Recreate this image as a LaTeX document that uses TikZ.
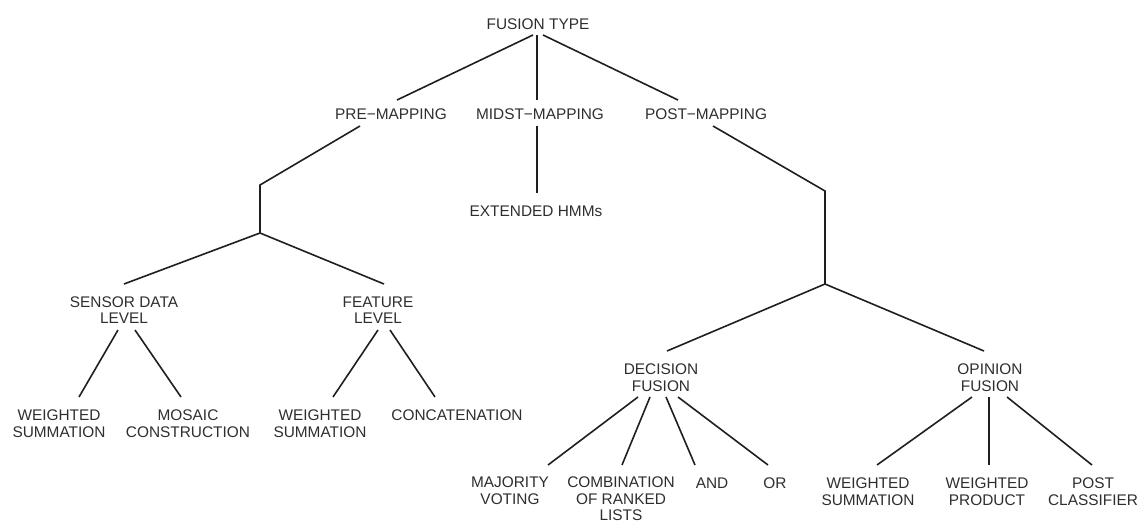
\documentclass[tikz,border=0pt]{standalone}
\usepackage{fontspec}
\setmainfont{Liberation Sans}
\usetikzlibrary{calc}
\begin{document}
\begin{tikzpicture}[x=1pt,y=-1pt,
  lbl/.style={inner sep=0pt,align=center,text=black!82,font=\fontsize{15.4}{16.5}\selectfont},
  edge/.style={draw=black!88,line width=1.6pt}]
\useasboundingbox (0,0) rectangle (1140,520);
% nodes
\node[lbl] (ft)   at (538,24)  {FUSION TYPE};
\node[lbl] (pre)  at (391,114) {PRE−MAPPING};
\node[lbl] (mid)  at (540,114) {MIDST−MAPPING};
\node[lbl] (post) at (706,114) {POST−MAPPING};
\node[lbl] (ext)  at (536,211) {EXTENDED HMMs};
\node[lbl] (sdl)  at (124,310) {SENSOR DATA\\LEVEL};
\node[lbl] (fl)   at (378,310) {FEATURE\\LEVEL};
\node[lbl] (ws1)  at (59,423.5)  {WEIGHTED\\SUMMATION};
\node[lbl] (mc)   at (188,423.5) {MOSAIC\\CONSTRUCTION};
\node[lbl] (ws2)  at (320,423.5) {WEIGHTED\\SUMMATION};
\node[lbl] (cat)  at (457,415)   {CONCATENATION};
\node[lbl] (df)   at (661,377.5) {DECISION\\FUSION};
\node[lbl] (opf)  at (990,377.5) {OPINION\\FUSION};
\node[lbl] (mv)   at (510,490.5) {MAJORITY\\VOTING};
\node[lbl] (crl)  at (621,499)   {COMBINATION\\OF RANKED\\LISTS};
\node[lbl] (and)  at (712,483)   {AND};
\node[lbl] (or)   at (775,483)   {OR};
\node[lbl] (ws3)  at (868,491.5) {WEIGHTED\\SUMMATION};
\node[lbl] (wp)   at (987,491.5) {WEIGHTED\\PRODUCT};
\node[lbl] (pc)   at (1093,491.5) {POST\\CLASSIFIER};
% junction points
\coordinate (pj1) at (260,185);
\coordinate (pj2) at (260,233);
\coordinate (qj1) at (825,191);
\coordinate (qj2) at (825,284);
% connectors
\draw[edge] ($(ft)+(-5,11)$) -- ($(pre)+(6,-14)$);
\draw[edge] ($(ft)+(-1,11)$) -- ($(mid)+(-3,-14)$);
\draw[edge] ($(ft)+(5,11)$) -- ($(post)+(-28,-14)$);
\draw[edge] ($(pre)+(-31,12)$) -- (pj1) -- (pj2);
\draw[edge] (pj2) -- ($(sdl)+(0,-26)$);
\draw[edge] (pj2) -- ($(fl)+(6,-26)$);
\draw[edge] ($(mid)+(-3,12)$) -- ($(ext)+(1,-18)$);
\draw[edge] ($(post)+(7,12)$) -- (qj1) -- (qj2);
\draw[edge] (qj2) -- ($(df)+(6,-26.5)$);
\draw[edge] (qj2) -- ($(opf)+(-6,-26.5)$);
\draw[edge] ($(sdl)+(-6,20)$) -- ($(ws1)+(20,-26.5)$);
\draw[edge] ($(sdl)+(11,20)$) -- ($(mc)+(-7,-26.5)$);
\draw[edge] ($(fl)+(0,20)$) -- ($(ws2)+(13,-26.5)$);
\draw[edge] ($(fl)+(12,20)$) -- ($(cat)+(-22,-18)$);
\draw[edge] ($(df)+(-23,19.5)$) -- ($(mv)+(38,-25.5)$);
\draw[edge] ($(df)+(-11,19.5)$) -- ($(crl)+(1,-34)$);
\draw[edge] ($(df)+(5,19.5)$) -- ($(and)+(-17,-18)$);
\draw[edge] ($(df)+(17,19.5)$) -- ($(or)+(-7,-18)$);
\draw[edge] ($(opf)+(-18,19.5)$) -- ($(ws3)+(9,-26.5)$);
\draw[edge] ($(opf)+(-1,19.5)$) -- ($(wp)+(2,-26.5)$);
\draw[edge] ($(opf)+(17,19.5)$) -- ($(pc)+(-1,-26.5)$);
\end{tikzpicture}
\end{document}
